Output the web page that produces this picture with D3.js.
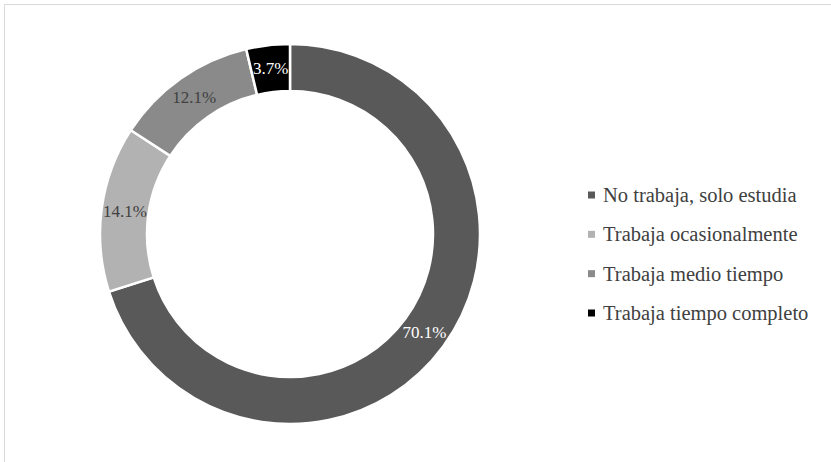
<!DOCTYPE html>
<html><head><meta charset="utf-8">
<script src="https://cdn.jsdelivr.net/npm/d3@7"></script>
<style>body{margin:0;background:#fff} text{font-family:"Liberation Serif","Times New Roman",Times,"DejaVu Serif",serif;}</style>
</head><body>
<svg id="c" width="831" height="462"></svg>
<script>
const categories = ["No trabaja, solo estudia","Trabaja ocasionalmente","Trabaja medio tiempo","Trabaja tiempo completo"];
const values = [70.1, 14.1, 12.1, 3.7];
const colors = ["#595959","#b2b2b2","#8a8a8a","#000000"];
const labelColors = ["#ffffff","#404040","#404040","#ffffff"];

const svg = d3.select("#c");
svg.append("rect").attr("x",4.5).attr("y",4.5).attr("width",840).attr("height",480)
  .attr("fill","#fff").attr("stroke","#d9d9d9").attr("stroke-width",1);

const cx = 290, cy = 234, R = 190, r = 143;
const pie = d3.pie().sort(null).value(d=>d)(values);
const arc = d3.arc().innerRadius(r).outerRadius(R);
const g = svg.append("g").attr("transform",`translate(${cx},${cy})`);
g.selectAll("path").data(pie).join("path")
  .attr("d",arc).attr("fill",(d,i)=>colors[i])
  .attr("stroke","#fff").attr("stroke-width",2.5);
g.selectAll("text").data(pie).join("text")
  .attr("transform",d=>`translate(${arc.centroid(d)})`)
  .attr("text-anchor","middle").attr("dominant-baseline","central")
  .attr("font-size",17)
  .attr("fill",(d,i)=>labelColors[i])
  .text(d=>d.value.toFixed(1)+"%");

const leg = svg.append("g");
const y = d3.scalePoint().domain(categories).range([195,313]);
categories.forEach((c,i)=>{
  leg.append("rect").attr("x",588).attr("y",y(c)-3.5).attr("width",7).attr("height",7).attr("fill",colors[i]);
  leg.append("text").attr("x",603).attr("y",y(c)).attr("dominant-baseline","central")
    .attr("font-size",20.5).attr("fill","#404040").text(c);
});
</script>
</body></html>
